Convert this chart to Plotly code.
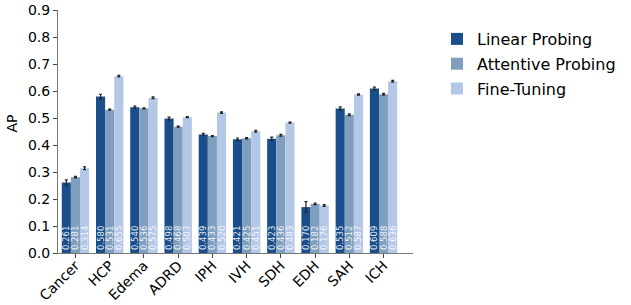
import plotly.graph_objects as go

categories = ["Cancer", "HCP", "Edema", "ADRD", "IPH", "IVH", "SDH", "EDH", "SAH", "ICH"]
linear_probing = [0.261, 0.580, 0.540, 0.498, 0.439, 0.421, 0.423, 0.170, 0.535, 0.609]
attentive_probing = [0.281, 0.531, 0.536, 0.468, 0.433, 0.425, 0.436, 0.182, 0.512, 0.588]
fine_tuning = [0.314, 0.655, 0.575, 0.503, 0.520, 0.451, 0.483, 0.176, 0.587, 0.636]
lp_err = [0.010, 0.008, 0.004, 0.005, 0.004, 0.005, 0.006, 0.020, 0.006, 0.005]
ap_err = [0.003, 0.002, 0.002, 0.002, 0.002, 0.002, 0.003, 0.003, 0.003, 0.003]
ft_err = [0.005, 0.003, 0.003, 0.002, 0.003, 0.003, 0.002, 0.003, 0.002, 0.003]

series = [
    ("Linear Probing", linear_probing, lp_err, "#1a4e8a"),
    ("Attentive Probing", attentive_probing, ap_err, "#809fbe"),
    ("Fine-Tuning", fine_tuning, ft_err, "#b3c7e6"),
]

FONT = "DejaVu Sans"
W, H = 631, 305
L, R, T, B = 58, 218, 10, 52
PW = W - L - R
PH = H - T - B

fig = go.Figure()
for name, vals, err, color in series:
    fig.add_trace(go.Bar(
        name=name, x=categories, y=vals, legendgroup=name,
        marker=dict(color=color, line=dict(width=0)),
        error_y=dict(type="data", array=err, color="#222222", thickness=1.2, width=1.5),
        text=[f"{v:.3f}" for v in vals],
        textposition="inside", insidetextanchor="start", textangle=-90,
        textfont=dict(family=FONT, size=8.5, color="rgba(255,255,255,0.9)"),
        cliponaxis=False,
    ))

fig.update_layout(
    width=W, height=H,
    margin=dict(l=L, r=R, t=T, b=B),
    paper_bgcolor="white", plot_bgcolor="white",
    barmode="group", bargap=0.2, bargroupgap=0,
    font=dict(family=FONT, size=14, color="black"),
    uniformtext=dict(mode="show", minsize=8),
    legend=dict(x=(437 - L) / PW, y=1 - (22 - T) / PH, xanchor="left", yanchor="top",
                font=dict(family=FONT, size=16), itemsizing="constant",
                tracegroupgap=1, bgcolor="rgba(0,0,0,0)"),
    showlegend=True,
    annotations=[dict(text="AP", xref="paper", yref="paper",
                      x=(11.5 - L) / PW, y=1 - (124 - T) / PH, xanchor="center", yanchor="middle",
                      textangle=-90, showarrow=False,
                      font=dict(family=FONT, size=14, color="black"))],
)
fig.update_xaxes(
    range=[-0.51, 9.86], showline=True, linecolor="#777777", linewidth=1,
    ticks="outside", ticklen=4, tickcolor="#444444", tickangle=-45,
    tickfont=dict(family=FONT, size=14), showgrid=False, zeroline=False,
    automargin=False, ticklabelstandoff=-6,
)
fig.update_yaxes(
    range=[0, 0.9], dtick=0.1, tickformat=".1f", showline=True, linecolor="#777777",
    linewidth=1, ticks="outside", ticklen=4, tickcolor="#444444",
    tickfont=dict(family=FONT, size=14), showgrid=False, zeroline=False,
    automargin=False,
)

fig.write_html("out.html", config={"displayModeBar": False},
               post_script="document.body.style.margin='0';")
